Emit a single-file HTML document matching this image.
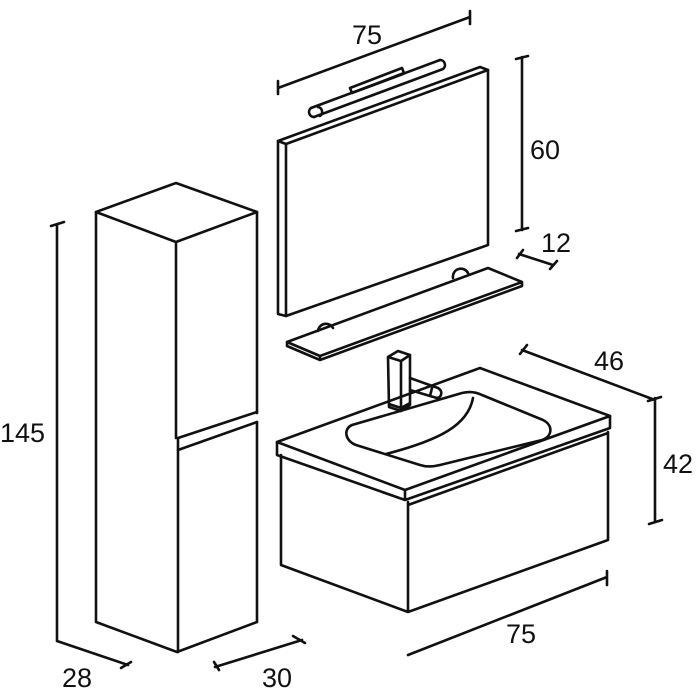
<!DOCTYPE html>
<html><head><style>html,body{margin:0;padding:0;background:#fff}svg{display:block}text{font-family:"Liberation Sans Narrow","Liberation Sans",sans-serif;font-size:27px;fill:#111}</style></head><body>
<svg width="700" height="700" viewBox="0 0 700 700" xmlns="http://www.w3.org/2000/svg">
<g fill="none" stroke="#111" stroke-width="2.6" stroke-linejoin="round" stroke-linecap="round">
<!-- column -->
<path d="M96 212 L176 183 L257 212 L176 242 Z"/>
<path d="M96 212 V622 L177 652 L257 622 V422"/>
<path d="M257 212 V413"/>
<path d="M176 242 V438 M178 450 V652"/>
<path d="M178 438 L257 412 M178 450 L257 422 M178 438 V450"/>
<!-- dims column -->
<path d="M57 224 V641 M51 226 L64 222 M57 641 L128 665 M121 668 L131 662"/>
<path d="M215 667 L302 640 M214 662 L219 670 M293 636 L305 643"/>
<!-- mirror -->
<path d="M278 141 L480 67 L488 70 V245 L286 316 L278 314 Z"/>
<path d="M278 141 L286 144 L488 70 M286 144 V316"/>
<!-- lamp -->
<path d="M311 108 L440 60 M314 117 L443 69"/>
<path d="M440 60 A5 5 0 0 1 443 69"/>
<path d="M311 108 A5 5 0 0 0 314 117 M318 107 A5 5 0 0 1 320 116"/>
<path d="M350 88 L402 68 L404 73 L352 93 Z M352 93 L403 74"/>
<!-- 75 top -->
<path d="M278 88 L470 17 M278 81 V94 M470 11 V24"/>
<!-- 60 -->
<path d="M522 57 V230 M516 59 L528 56 M516 231 L528 228"/>
<!-- 12 -->
<path d="M519 254 L553 265 M517 258 L523 250 M550 269 L557 261"/>
<!-- shelf -->
<path d="M287 342 L488 268 L522 282 L320 356 Z M287 342 L287 346 L320 360 L522 286 L522 282 M320 356 V360"/>
<path d="M318 331 A8 8 0 0 1 333 328 M453 278 A8 8 0 0 1 468 273"/>
<!-- vanity -->
<path d="M277 442 L480 368 L610 416 L405 490 Z" fill="#fff"/>
<path d="M277 442 V455 L405 500 L610 428 V416 M405 490 V500"/>
<path d="M281 455 V565 L408 612 L608 540 V432 M408 502 V612 M408 505 L608 433"/>
<!-- basin -->
<path d="M352 425 L462 393 C470 391 476 392 482 395 L543 420 C553 425 553 436 542 440 L440 465 C432 467 426 467 420 465 L356 445 C345 441 343 429 352 425 Z"/>
<path d="M473 398 C468 425 440 440 386 454"/>
<!-- faucet -->
<path d="M388 357 L398 351 L410 355 L410 405 L401 411 L389 407 Z M388 357 L401 361 L410 355 M401 361 V411 M389 404 L401 408 L410 403"/>
<path d="M410 378 L438 388 C443 391 442 397 437 398 L430 396 L410 390 M430 396 L432 388"/>
<!-- dims vanity -->
<path d="M522 350 L655 400 M520 354 L527 345 M655 398 V522 M648 401 L661 397 M649 524 L662 520"/>
<path d="M408 655 L607 577 M607 571 V585"/>
</g>
<text x="0" y="442">145</text>
<text x="62" y="687">28</text>
<text x="262" y="687">30</text>
<text x="352" y="44">75</text>
<text x="530" y="159">60</text>
<text x="541" y="252">12</text>
<text x="594" y="370">46</text>
<text x="663" y="473">42</text>
<text x="506" y="643">75</text>
</svg>
</body></html>
